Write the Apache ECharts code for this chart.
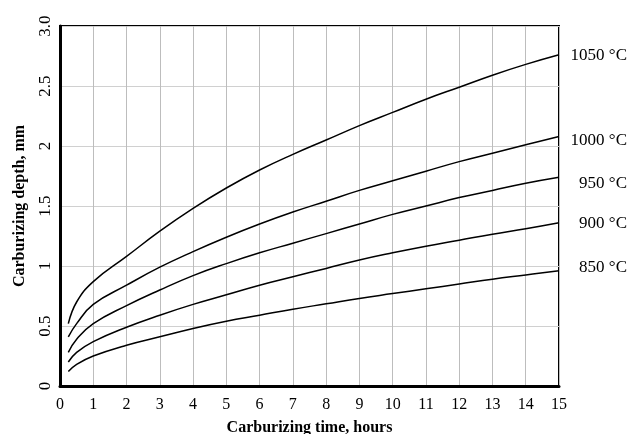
<!DOCTYPE html>
<html>
<head>
<meta charset="utf-8">
<script src="https://cdn.jsdelivr.net/npm/echarts@6/dist/echarts.min.js"></script>
<style>
html,body{margin:0;padding:0;background:#fff;}
#chart{width:631px;height:434px;}
</style>
</head>
<body>
<div id="chart"></div>
<script>
var times = [0.25, 0.5, 1, 2, 3, 4, 5, 6, 7, 8, 9, 10, 11, 12, 13, 14, 15];
var depth1050 = [0.52, 0.70, 0.87, 1.08, 1.29, 1.48, 1.65, 1.80, 1.93, 2.05, 2.17, 2.28, 2.39, 2.49, 2.59, 2.68, 2.76];
var depth1000 = [0.41, 0.52, 0.68, 0.84, 0.99, 1.12, 1.24, 1.35, 1.45, 1.54, 1.63, 1.71, 1.79, 1.87, 1.94, 2.01, 2.08];
var depth950  = [0.28, 0.39, 0.52, 0.67, 0.80, 0.92, 1.02, 1.11, 1.19, 1.27, 1.35, 1.43, 1.50, 1.57, 1.63, 1.69, 1.74];
var depth900  = [0.20, 0.28, 0.37, 0.49, 0.59, 0.68, 0.76, 0.84, 0.91, 0.98, 1.05, 1.11, 1.165, 1.215, 1.265, 1.31, 1.36];
var depth850  = [0.12, 0.18, 0.25, 0.34, 0.41, 0.48, 0.54, 0.59, 0.64, 0.685, 0.73, 0.77, 0.81, 0.85, 0.89, 0.925, 0.96];
var seriesNames = ['1050 °C', '1000 °C', '950 °C', '900 °C', '850 °C'];
var yTickLabels = {0: '0', 0.5: '0.5', 1: '1', 1.5: '1.5', 2: '2', 2.5: '2.5', 3: '3.0'};

var FONT = '"Liberation Serif", "Times New Roman", serif';
var allDepths = [depth1050, depth1000, depth950, depth900, depth850];
var labelOffsets = [[60, 1], [60, 4], [60, 6], [60, 1], [60, -3]];

function pairs(arr) {
  return times.map(function (t, i) { return [t, arr[i]]; });
}

var chart = echarts.init(document.getElementById('chart'), null, {renderer: 'canvas'});
chart.setOption({
  animation: false,
  backgroundColor: '#fff',
  grid: {left: 60, right: 72, top: 26, bottom: 48, show: true, borderColor: '#000', borderWidth: 2,
         backgroundColor: 'transparent', containLabel: false, outerBoundsMode: 'none'},
  xAxis: {
    type: 'value', min: 0, max: 15, interval: 1,
    name: 'Carburizing time, hours', nameLocation: 'middle', nameGap: 34,
    nameTextStyle: {fontFamily: FONT, fontSize: 16, fontWeight: 'bold', color: '#000'},
    axisLine: {show: true, onZero: false, lineStyle: {color: '#000', width: 3}},
    axisTick: {show: false},
    axisLabel: {fontFamily: FONT, fontSize: 16, color: '#000', margin: 11},
    splitLine: {show: true, lineStyle: {color: '#bdbdbd', width: 1}}
  },
  yAxis: {
    type: 'value', min: 0, max: 3, interval: 0.5,
    name: 'Carburizing depth, mm', nameLocation: 'middle', nameGap: 32, nameRotate: 90,
    nameTextStyle: {fontFamily: FONT, fontSize: 16, fontWeight: 'bold', color: '#000'},
    axisLine: {show: true, onZero: false, lineStyle: {color: '#000', width: 3}},
    axisTick: {show: false},
    axisLabel: {
      fontFamily: FONT, fontSize: 17, color: '#000', rotate: 90, margin: 6,
      formatter: function (v) { return yTickLabels[v] !== undefined ? yTickLabels[v] : String(v); }
    },
    splitLine: {show: true, lineStyle: {color: '#d0d0d0', width: 1}}
  },
  series: allDepths.map(function (d, i) {
    return {
      name: seriesNames[i],
      type: 'line',
      data: pairs(d),
      smooth: 0.45,
      showSymbol: false,
      symbol: 'none',
      lineStyle: {color: '#000', width: 1.5},
      endLabel: {
        show: true, formatter: '{a}', align: 'right', offset: labelOffsets[i],
        fontFamily: FONT, fontSize: 17, color: '#000'
      },
      z: 3
    };
  })
});
</script>
</body>
</html>
